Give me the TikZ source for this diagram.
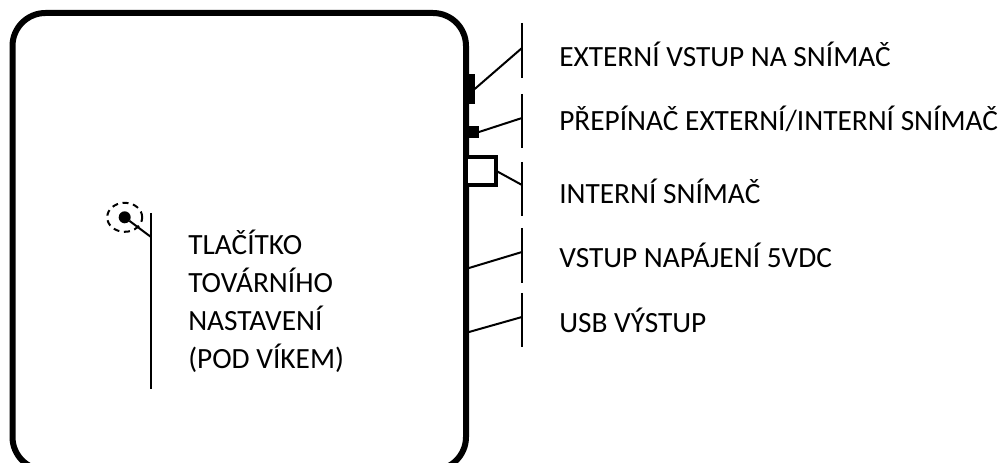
\documentclass[tikz,border=0pt]{standalone}
\usepackage{fontspec}
\setmainfont{Carlito}
\usetikzlibrary{shapes.geometric,positioning}
\tikzset{
  casing/.style={line width=4.5pt, rounded corners=24.75pt},
  wire/.style={line width=1.5pt},
  blackpart/.style={fill=black, draw=none, inner sep=0pt, outer sep=0pt},
  sensorbox/.style={draw, line width=3pt, fill=white, inner sep=0pt, outer sep=0pt},
  labeltext/.style={anchor=west, inner sep=0pt, align=left, font=\fontsize{22}{28.5}\selectfont},
}

\begin{document}
\begin{tikzpicture}[x=0.75pt, y=-0.75pt]

  % Page frame, the casing runs off the bottom edge
  \path[use as bounding box, clip] (0,0) rectangle (1000,463);

  % Casing
  \draw[casing] (12.5,13) rectangle (466,470);

  % Parts on the right wall
  \node[blackpart, minimum width=4.5pt, minimum height=22.5pt] (extinput) at (471.7,89) {};
  \node[blackpart, minimum width=9.75pt, minimum height=9pt] (selector) at (472.5,132) {};
  \node[sensorbox, minimum width=22.9pt, minimum height=21.4pt] (intsensor) at (481.2,171) {};
  \coordinate (powerjack) at (469,268);
  \coordinate (usbjack) at (469,332);

  % Vertical label bars and their wire ends
  \foreach \name/\ytop/\ybot/\yhit in {extbar/23/78/48, selbar/94/148/118, intbar/162/216/185, powbar/228/283/252, usbbar/293/347/317} {
    \coordinate (\name-top) at (522,\ytop);
    \coordinate (\name-bot) at (522,\ybot);
    \coordinate (\name-hit) at (522,\yhit);
    \draw[wire] (\name-top) -- (\name-bot);
  }

  % Wires to the bars
  \draw[wire] (extinput.east) -- (extbar-hit);
  \draw[wire] (selector.east) -- (selbar-hit);
  \draw[wire] (intsensor.east) -- (intbar-hit);
  \draw[wire] (powerjack) -- (powbar-hit);
  \draw[wire] (usbjack) -- (usbbar-hit);

  % Labels on the right
  \node[labeltext] (extlabel) at (559,54) {EXTERNÍ VSTUP NA SNÍMAČ};
  \node[labeltext] (sellabel) at (559,119) {PŘEPÍNAČ EXTERNÍ/INTERNÍ SNÍMAČ};
  \node[labeltext] (intlabel) at (559,191) {INTERNÍ SNÍMAČ};
  \node[labeltext] (powlabel) at (559,255) {VSTUP NAPÁJENÍ 5VDC};
  \node[labeltext] (usblabel) at (559,320) {USB VÝSTUP};

  % Factory reset button
  \node[draw, ellipse, wire, dash pattern=on 4.5pt off 3.5pt, minimum width=26.25pt, minimum height=21.75pt, inner sep=0pt] (buttonring) at (124.7,217.3) {};
  \node[blackpart, circle, minimum size=9pt] (buttondot) at (124.7,217.3) {};
  \coordinate (resettop) at (151,213);
  \coordinate (resetbot) at (151,389);
  \coordinate (resethit) at (151,237);
  \draw[wire] (resettop) -- (resetbot);
  \draw[wire] (buttondot) -- (resethit);
  \node[labeltext] (resetlabel) at (188,301) {TLAČÍTKO\\TOVÁRNÍHO\\NASTAVENÍ\\(POD VÍKEM)};

\end{tikzpicture}
\end{document}
